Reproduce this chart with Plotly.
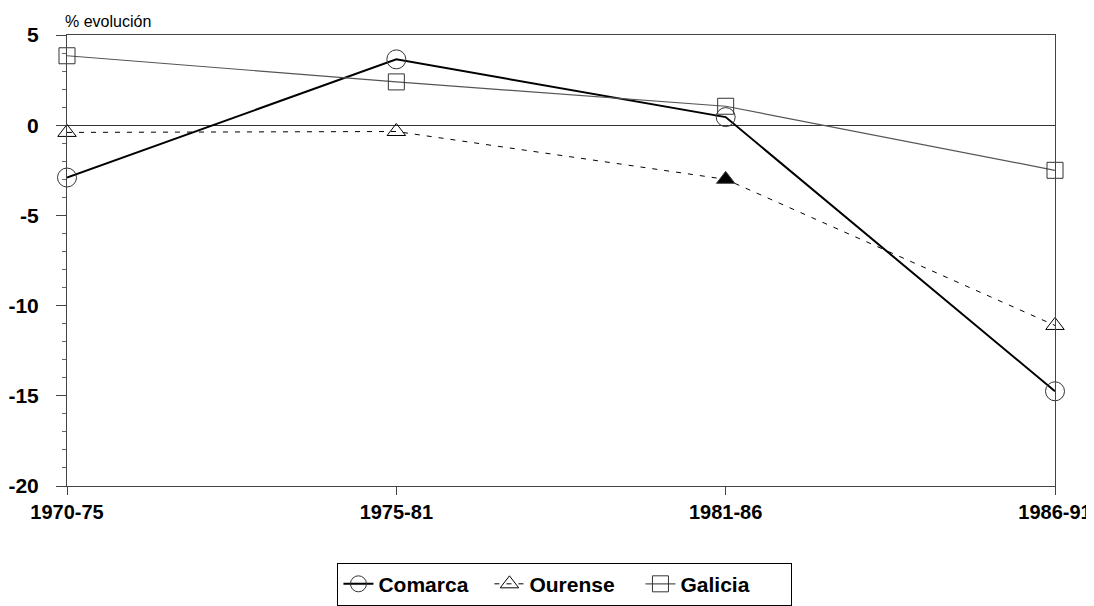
import plotly.graph_objects as go

periods = ["1970-75", "1975-81", "1981-86", "1986-91"]
comarca = [-2.9, 3.65, 0.45, -14.75]
ourense = [-0.4, -0.35, -3.0, -11.1]
galicia = [3.85, 2.4, 1.05, -2.5]
ourense_symbols = ["triangle-up-open", "triangle-up-open", "triangle-up", "triangle-up-open"]
y_ticks = [5, 0, -5, -10, -15, -20]
y_tick_text = ["5", "0", "-5", "-10", "-15", "-20"]

font_family = "Liberation Sans, Arial, sans-serif"

fig = go.Figure()
fig.add_trace(go.Scatter(
    x=periods, y=comarca, name="Comarca", mode="lines+markers", cliponaxis=False,
    line=dict(color="black", width=2),
    marker=dict(symbol="circle-open", size=19, color="#333", line=dict(width=1))
))
fig.add_trace(go.Scatter(
    x=periods, y=ourense, name="Ourense", mode="lines+markers", cliponaxis=False,
    line=dict(color="black", width=1, dash="5px,7px"),
    marker=dict(symbol=ourense_symbols, size=16, color="black", line=dict(width=1))
))
fig.add_trace(go.Scatter(
    x=periods, y=galicia, name="Galicia", mode="lines+markers", cliponaxis=False,
    line=dict(color="#555", width=1.2),
    marker=dict(symbol="square-open", size=16, color="#333", line=dict(width=1))
))

# page body has an 8px margin, so the figure is sized to end at the window edge
fig.update_layout(
    width=1086, height=598,
    margin=dict(l=59, r=39, t=27, b=120, autoexpand=False),
    plot_bgcolor="white", paper_bgcolor="white",
    font=dict(family=font_family, color="black"),
    showlegend=True,
    legend=dict(
        orientation="h", x=0.504, xanchor="center", y=-0.17, yanchor="top",
        bordercolor="black", borderwidth=1,
        font=dict(size=21, family=font_family, weight="bold"),
        itemwidth=30, entrywidth=106, entrywidthmode="pixels"
    ),
    annotations=[dict(
        text="% evolución", xref="paper", yref="paper", x=0, y=1,
        xanchor="left", yanchor="bottom", yshift=3, xshift=-4, showarrow=False,
        font=dict(size=16, family=font_family)
    )]
)
fig.update_xaxes(
    type="category", range=[0, 3], automargin=False,
    showline=True, linecolor="#444", linewidth=1, mirror=True,
    ticks="outside", ticklen=8, tickcolor="#444",
    showgrid=False, zeroline=False,
    tickfont=dict(size=20, family=font_family, weight="bold")
)
fig.update_yaxes(
    range=[-20, 5], tickvals=y_ticks, ticktext=y_tick_text, automargin=False,
    showline=True, linecolor="#444", linewidth=1, mirror=True,
    ticks="outside", ticklen=10, tickcolor="#444",
    minor=dict(dtick=1, ticks="outside", ticklen=4, tickcolor="#666"),
    showgrid=False, zeroline=True, zerolinecolor="#333", zerolinewidth=1,
    ticklabelstandoff=13,
    tickfont=dict(size=21, family=font_family, weight="bold")
)

fig.write_html("out.html")
